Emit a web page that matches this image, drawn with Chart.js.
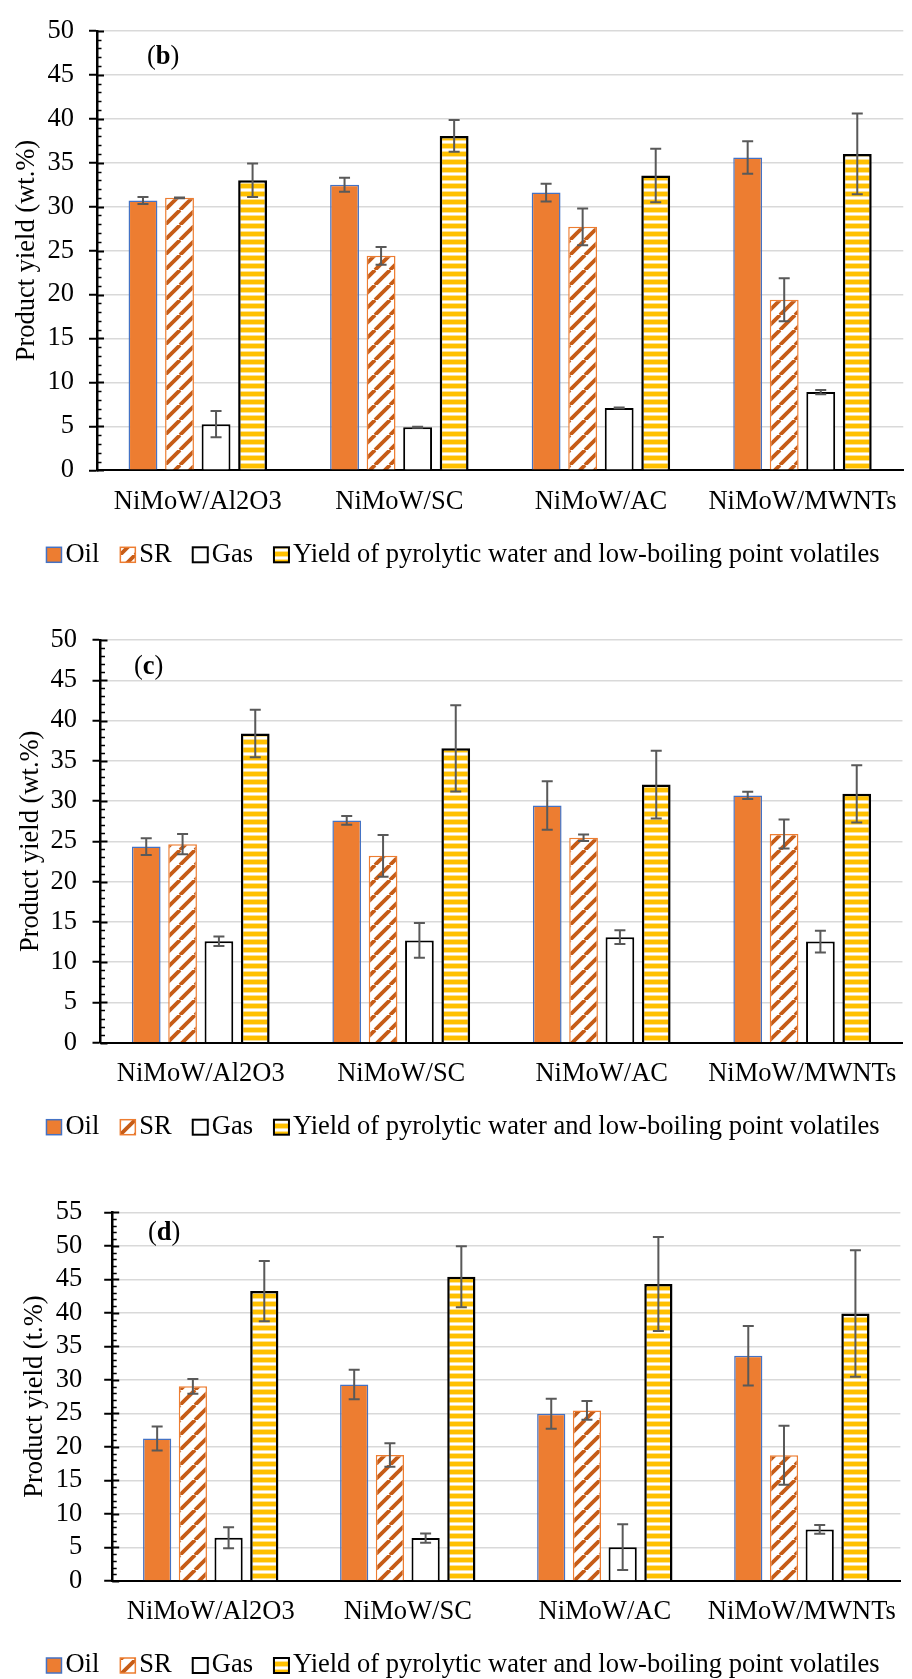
<!DOCTYPE html>
<html>
<head>
<meta charset="utf-8">
<title>Product yield over NiMoW catalysts</title>
<script src="https://cdn.jsdelivr.net/npm/chart.js@4.4.1/dist/chart.umd.min.js"></script>
<style>
  html, body { margin: 0; padding: 0; background: #fff; }
  body { width: 912px; height: 1679px; position: relative; overflow: hidden; }
  canvas { position: absolute; left: 0; }
</style>
</head>
<body>
<canvas id="chart-b" width="912" height="580" style="top:0px"></canvas>
<canvas id="chart-c" width="912" height="570" style="top:580px"></canvas>
<canvas id="chart-d" width="912" height="529" style="top:1150px"></canvas>

<script>
// Catalysts on the x axis (same for all three panels).
var categories = ['NiMoW/Al2O3', 'NiMoW/SC', 'NiMoW/AC', 'NiMoW/MWNTs'];
var seriesNames = ['Oil', 'SR', 'Gas', 'Yield of pyrolytic water and low-boiling point volatiles'];

// y tick labels
var yTicksBC = [0, 5, 10, 15, 20, 25, 30, 35, 40, 45, 50];
var yTicksD = [0, 5, 10, 15, 20, 25, 30, 35, 40, 45, 50, 55];

// Panel (b)
var oilB = [30.7, 32.5, 31.6, 35.6];
var oilErrB = [0.4, 0.8, 1.0, 1.85];
var srB = [31.0, 24.4, 27.7, 19.4];
var srErrB = [0.05, 1.0, 2.1, 2.45];
var gasB = [5.25, 4.9, 7.1, 8.9];
var gasErrB = [1.5, 0.05, 0.05, 0.25];
var yldB = [33.0, 38.05, 33.55, 36.0];
var yldErrB = [1.9, 1.8, 3.05, 4.6];

// Panel (c)
var oilC = [24.35, 27.6, 29.45, 30.7];
var oilErrC = [1.05, 0.55, 3.0, 0.45];
var srC = [24.65, 23.2, 25.45, 25.9];
var srErrC = [1.25, 2.6, 0.4, 1.8];
var gasC = [12.6, 12.7, 13.1, 12.55];
var gasErrC = [0.6, 2.15, 0.85, 1.35];
var yldC = [38.4, 36.55, 32.05, 30.9];
var yldErrC = [2.95, 5.35, 4.2, 3.55];

// Panel (d)
var oilD = [21.25, 29.3, 24.95, 33.6];
var oilErrD = [1.8, 2.2, 2.25, 4.45];
var srD = [29.05, 18.8, 25.45, 18.75];
var srErrD = [1.1, 1.75, 1.4, 4.4];
var gasD = [6.45, 6.4, 5.05, 7.7];
var gasErrD = [1.55, 0.7, 3.4, 0.65];
var yldD = [43.25, 45.4, 44.3, 39.9];
var yldErrD = [4.5, 4.55, 7.0, 9.45];

var FAMILY = "'Liberation Serif', 'Times New Roman', serif";
var FONT_PX = 26.5;
Chart.defaults.font.family = FAMILY;
Chart.defaults.font.size = FONT_PX;
Chart.defaults.color = '#000';
Chart.defaults.animation = false;

/**
 * Excel style "wide upward diagonal" fill for the SR bars.
 */
function diagonalPattern() {
    var s = 15;
    var c = document.createElement('canvas');
    c.width = s; c.height = s;
    var g = c.getContext('2d');
    g.fillStyle = '#fff';
    g.fillRect(0, 0, s, s);
    g.strokeStyle = '#C65C17';
    g.lineWidth = 3.8;
    for (var k = -s; k <= s; k += s) {
        g.beginPath();
        g.moveTo(k, s);
        g.lineTo(k + s, 0);
        g.stroke();
    }
    return g.createPattern(c, 'repeat');
}

/**
 * Horizontal gold stripes for the pyrolytic water bars.
 */
function stripePattern() {
    var c = document.createElement('canvas');
    c.width = 8; c.height = 8;
    var g = c.getContext('2d');
    g.fillStyle = '#fff';
    g.fillRect(0, 0, 8, 8);
    g.fillStyle = '#FFC000';
    g.fillRect(0, 0, 8, 4);
    g.fillStyle = '#FFE38F';
    g.fillRect(0, 4, 8, 1);
    g.fillRect(0, 7, 8, 1);
    return g.createPattern(c, 'repeat');
}

var srFill = diagonalPattern();
var yldFill = stripePattern();

// Error bars: value +/- dataset.errors[j], placed through the y scale.
var errorBars = {
    id: 'errorBars',
    afterDatasetsDraw: function(chart) {
        var ctx = chart.ctx;
        var yScale = chart.scales.y;
        ctx.save();
        ctx.strokeStyle = '#595959';
        ctx.lineWidth = 2;
        chart.data.datasets.forEach(function(ds, i) {
            var meta = chart.getDatasetMeta(i);
            meta.data.forEach(function(bar, j) {
                var v = ds.data[j], e = ds.errors[j];
                var top = yScale.getPixelForValue(v + e);
                var bot = yScale.getPixelForValue(v - e);
                ctx.beginPath();
                ctx.moveTo(bar.x, top); ctx.lineTo(bar.x, bot);
                ctx.moveTo(bar.x - 5.5, top); ctx.lineTo(bar.x + 5.5, top);
                ctx.moveTo(bar.x - 5.5, bot); ctx.lineTo(bar.x + 5.5, bot);
                ctx.stroke();
            });
        });
        ctx.restore();
    }
};

// Minor ticks (every unit) and the inner half of the major ticks, on the inside of the y axis.
var innerTicks = {
    id: 'innerTicks',
    beforeDatasetsDraw: function(chart) {
        var ctx = chart.ctx;
        var yScale = chart.scales.y;
        var x0 = chart.chartArea.left;
        var major = yScale.options.ticks.stepSize;
        ctx.save();
        ctx.strokeStyle = '#000';
        for (var v = yScale.min; v <= yScale.max; v += 1) {
            var py = Math.round(yScale.getPixelForValue(v)) + 0.5;
            var isMajor = v % major === 0;
            ctx.lineWidth = isMajor ? 2 : 1.5;
            ctx.beginPath();
            ctx.moveTo(x0, py);
            ctx.lineTo(x0 + (isMajor ? 7 : 4.5), py);
            ctx.stroke();
        }
        ctx.restore();
    }
};

// Legend row under the x axis: small square swatch close to its label.
var legendRow = {
    id: 'legendRow',
    afterDraw: function(chart, args, opts) {
        var ctx = chart.ctx;
        var sets = chart.data.datasets;
        var box = 15, gapText = 4, gapItem = 21;
        ctx.save();
        ctx.font = FONT_PX + 'px ' + FAMILY;
        var widths = sets.map(function(ds) { return ctx.measureText(ds.label).width; });
        var total = 0;
        widths.forEach(function(w) { total += box + gapText + w; });
        total += gapItem * (sets.length - 1);
        var x = opts.center - total / 2;
        var y = chart.chartArea.bottom + opts.offset;
        ctx.textBaseline = 'middle';
        sets.forEach(function(ds, i) {
            ctx.fillStyle = ds.backgroundColor;
            ctx.fillRect(x, y - box / 2, box, box);
            ctx.strokeStyle = ds.borderColor;
            ctx.lineWidth = Math.min(ds.borderWidth, 2);
            ctx.strokeRect(x, y - box / 2, box, box);
            ctx.fillStyle = '#000';
            ctx.fillText(ds.label, x + box + gapText, y);
            x += box + gapText + widths[i] + gapItem;
        });
        ctx.restore();
    }
};

// "(b)", "(c)", "(d)" tag with a bold letter.
var panelTag = {
    id: 'panelTag',
    afterDraw: function(chart, args, opts) {
        var ctx = chart.ctx;
        var x = opts.x;
        ctx.save();
        ctx.fillStyle = '#000';
        ctx.textBaseline = 'middle';
        ctx.font = FONT_PX + 'px ' + FAMILY;
        ctx.fillText('(', x, opts.y);
        x += ctx.measureText('(').width;
        ctx.font = 'bold ' + FONT_PX + 'px ' + FAMILY;
        ctx.fillText(opts.letter, x, opts.y);
        x += ctx.measureText(opts.letter).width;
        ctx.font = FONT_PX + 'px ' + FAMILY;
        ctx.fillText(')', x, opts.y);
        ctx.restore();
    }
};

function makeChart(id, values, errors, yTicks, title, p) {
    var yMax = yTicks[yTicks.length - 1];
    var step = yTicks[1] - yTicks[0];
    var styles = [
        {backgroundColor: '#ED7D31', borderColor: '#4472C4', borderWidth: 1.5},
        {backgroundColor: srFill, borderColor: '#ED7D31', borderWidth: 1.5},
        {backgroundColor: '#fff', borderColor: '#000', borderWidth: 2},
        {backgroundColor: yldFill, borderColor: '#000', borderWidth: 2.5}
    ];
    var datasets = values.map(function(v, i) {
        return Object.assign({
            label: seriesNames[i],
            data: v,
            errors: errors[i],
            barPercentage: 0.79,
            categoryPercentage: 0.725
        }, styles[i]);
    });

    return new Chart(document.getElementById(id), {
        type: 'bar',
        data: {labels: categories, datasets: datasets},
        plugins: [innerTicks, errorBars, legendRow, panelTag],
        options: {
            responsive: false,
            events: [],
            layout: {padding: {top: p.top, bottom: p.bottom, left: 0, right: p.right}},
            plugins: {
                tooltip: {enabled: false},
                legend: {display: false},
                legendRow: {center: 463, offset: 84.5},
                panelTag: {letter: p.letter, x: p.tagX, y: p.tagY}
            },
            scales: {
                x: {
                    grid: {display: false, drawTicks: false},
                    border: {color: '#000', width: 2},
                    ticks: {padding: 15.5, maxRotation: 0, autoSkip: false, color: '#000'},
                    afterFit: function(s) { s.height = 53.7; }
                },
                y: {
                    position: 'left',
                    min: 0,
                    max: yMax,
                    ticks: {stepSize: step, padding: p.tickPad, autoSkip: false, color: '#000'},
                    grid: {
                        color: function(c) { return c.tick && c.tick.value === 0 ? 'rgba(0,0,0,0)' : '#D9D9D9'; },
                        lineWidth: 1.5,
                        tickColor: '#000',
                        tickLength: 8,
                        tickWidth: 2
                    },
                    border: {color: '#000', width: 2.5},
                    title: {display: true, text: title, color: '#000', padding: {top: p.titlePad, bottom: 0}},
                    afterFit: function(s) { s.width = p.left; }
                }
            }
        }
    });
}

makeChart('chart-b',
    [oilB, srB, gasB, yldB], [oilErrB, srErrB, gasErrB, yldErrB],
    yTicksBC, 'Product yield (wt.%)',
    {top: 26, bottom: 56, right: 0, left: 97, tickPad: 15, titlePad: 11.1, letter: 'b', tagX: 147, tagY: 57});

makeChart('chart-c',
    [oilC, srC, gasC, yldC], [oilErrC, srErrC, gasErrC, yldErrC],
    yTicksBC, 'Product yield (wt.%)',
    {top: 60, bottom: 53.6, right: 2, left: 100.5, tickPad: 15.5, titlePad: 15.1, letter: 'c', tagX: 134, tagY: 86.7});

makeChart('chart-d',
    [oilD, srD, gasD, yldD], [oilErrD, srErrD, gasErrD, yldErrD],
    yTicksD, 'Product yield (t.%)',
    {top: 62.3, bottom: 44.3, right: 5, left: 112.2, tickPad: 22, titlePad: 19.6, letter: 'd', tagX: 148, tagY: 83});
</script>
</body>
</html>
